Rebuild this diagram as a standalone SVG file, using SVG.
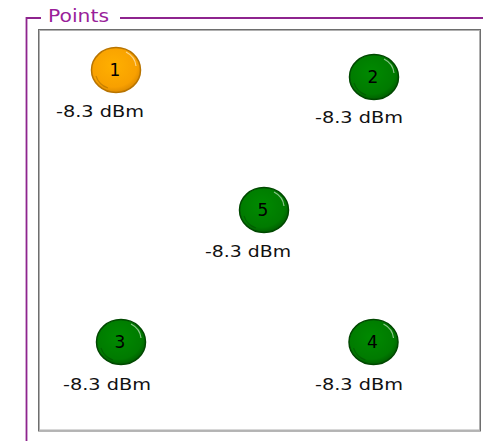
<svg xmlns="http://www.w3.org/2000/svg" width="483" height="441" viewBox="0 0 483 441">
  <defs>
    <radialGradient id="gOrange" cx="0.45" cy="0.4" r="0.6">
      <stop offset="0" stop-color="#FFB000"/>
      <stop offset="0.8" stop-color="#F8A000"/>
      <stop offset="1" stop-color="#E08C00"/>
    </radialGradient>
    <radialGradient id="gGreen" cx="0.45" cy="0.4" r="0.6">
      <stop offset="0" stop-color="#008A00"/>
      <stop offset="0.8" stop-color="#007A00"/>
      <stop offset="1" stop-color="#006000"/>
    </radialGradient>
    <style>
      .frame { fill: none; stroke: #8E248E; stroke-width: 1.8; }
      .title { font-family: "DejaVu Sans", Verdana, sans-serif; font-size: 18px; fill: #9A1F9A; }
      .ob { fill: url(#gOrange); stroke: #B87400; stroke-width: 1.5; }
      .gb { fill: url(#gGreen); stroke: #004800; stroke-width: 1.5; }
      .hl { fill: none; stroke: #ffffff; stroke-opacity: 0.55; stroke-width: 1.2; }
      .sh { fill: none; stroke: #000000; stroke-opacity: 0.18; stroke-width: 1.2; }
      .num { font-family: "DejaVu Sans", Verdana, sans-serif; font-size: 17px; fill: #000; text-anchor: middle; }
      .lbl { font-family: "DejaVu Sans", Verdana, sans-serif; font-size: 16.5px; fill: #111; }
    </style>
  </defs>

  <g id="groupbox">
    <path class="frame" d="M26.5,441 V18 H41 M120,18 H483"/>
    <text class="title" x="48" y="22" textLength="61" lengthAdjust="spacingAndGlyphs">Points</text>
    <rect x="38.5" y="29.5" width="442" height="401.5" fill="#ffffff" stroke="#6e6e6e" stroke-width="1"/>
    <rect x="39.5" y="30.5" width="440" height="399.5" fill="none" stroke="#b0b0b0" stroke-width="1"/>
  </g>

  <g id="connectors"/>

  <g id="node1">
    <ellipse class="ob" cx="116" cy="70" rx="24.5" ry="22.5"/>
    <path class="hl" d="M126,52 A20,18 0 0 1 136,66"/>
    <path class="sh" d="M96,76 A20,18 0 0 0 108,88"/>
    <text class="num" x="115" y="76">1</text>
    <text class="lbl" x="56" y="117" textLength="88" lengthAdjust="spacingAndGlyphs">-8.3 dBm</text>
  </g>

  <g id="node2">
    <ellipse class="gb" cx="374" cy="77" rx="24.5" ry="22.5"/>
    <path class="hl" d="M384,59 A20,18 0 0 1 394,73"/>
    <path class="sh" d="M354,83 A20,18 0 0 0 366,95"/>
    <text class="num" x="373" y="83">2</text>
    <text class="lbl" x="315" y="123" textLength="88" lengthAdjust="spacingAndGlyphs">-8.3 dBm</text>
  </g>

  <g id="node5">
    <ellipse class="gb" cx="264" cy="210" rx="24.5" ry="22.5"/>
    <path class="hl" d="M274,192 A20,18 0 0 1 284,206"/>
    <path class="sh" d="M244,216 A20,18 0 0 0 256,228"/>
    <text class="num" x="263" y="216">5</text>
    <text class="lbl" x="205" y="257" textLength="86" lengthAdjust="spacingAndGlyphs">-8.3 dBm</text>
  </g>

  <g id="node3">
    <ellipse class="gb" cx="121" cy="342" rx="24.5" ry="22.5"/>
    <path class="hl" d="M131,324 A20,18 0 0 1 141,338"/>
    <path class="sh" d="M101,348 A20,18 0 0 0 113,360"/>
    <text class="num" x="120" y="348">3</text>
    <text class="lbl" x="63" y="390" textLength="88" lengthAdjust="spacingAndGlyphs">-8.3 dBm</text>
  </g>

  <g id="node4">
    <ellipse class="gb" cx="373.5" cy="342" rx="24.5" ry="22.5"/>
    <path class="hl" d="M383.5,324 A20,18 0 0 1 393.5,338"/>
    <path class="sh" d="M353.5,348 A20,18 0 0 0 365.5,360"/>
    <text class="num" x="372.5" y="348">4</text>
    <text class="lbl" x="315" y="390" textLength="88" lengthAdjust="spacingAndGlyphs">-8.3 dBm</text>
  </g>
</svg>
